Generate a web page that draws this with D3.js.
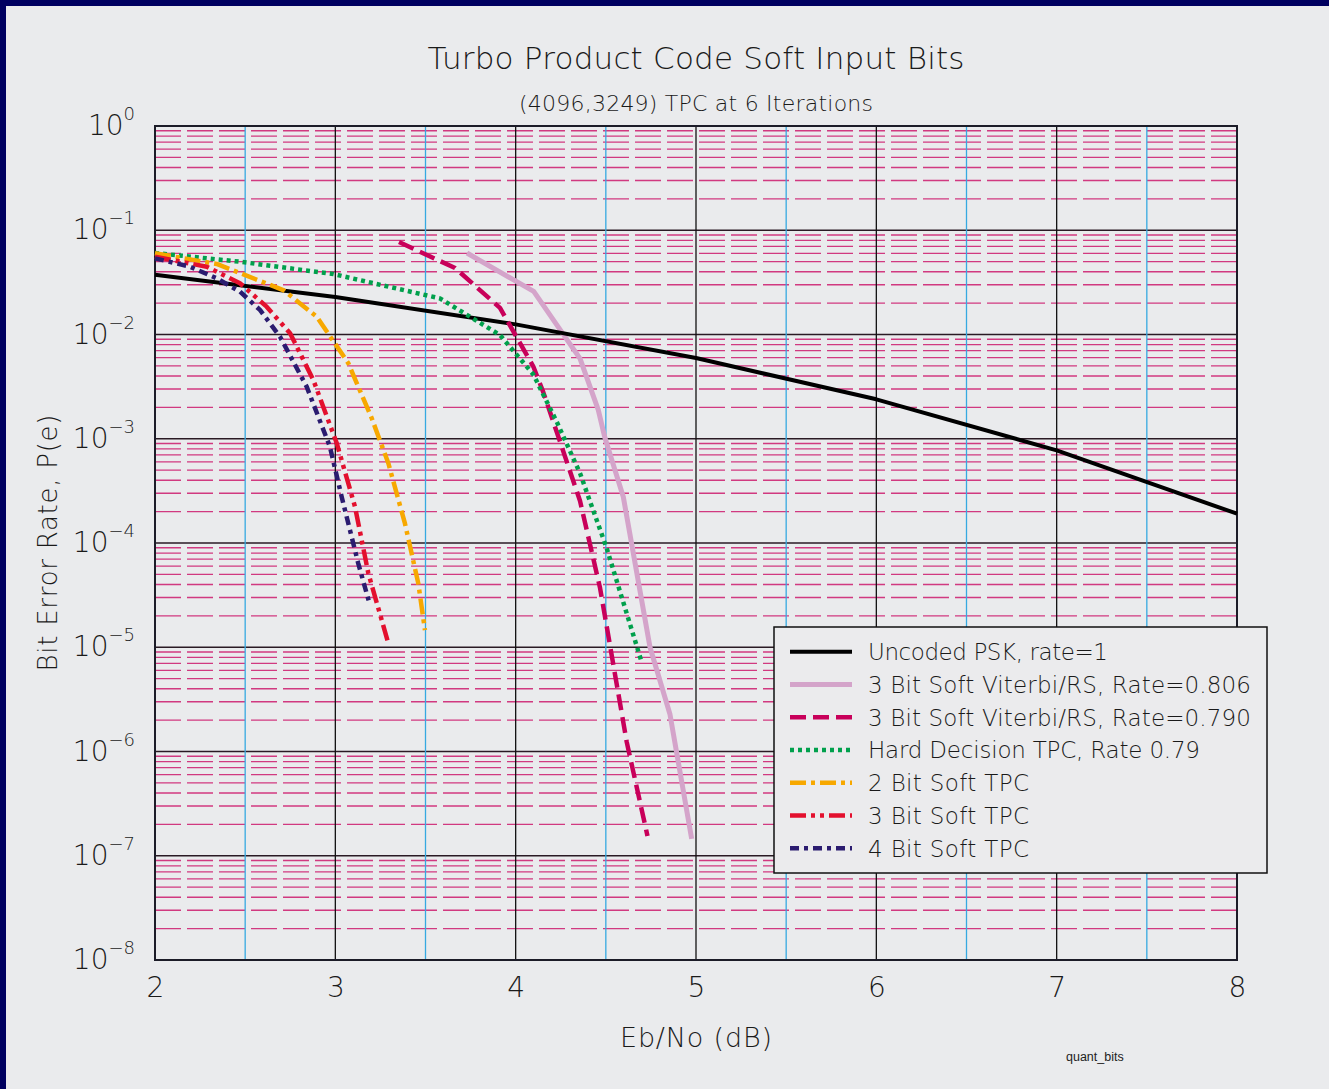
<!DOCTYPE html>
<html>
<head>
<meta charset="utf-8">
<script src="https://cdn.jsdelivr.net/npm/d3@7"></script>
<style>
  html, body { margin: 0; padding: 0; background: #000060; }
  svg { display: block; }
  .thin { font-family: "DejaVu Sans", "Open Sans", sans-serif; font-weight: 200; fill: #1a1a1a; }
</style>
</head>
<body>
<svg id="chart" width="1329" height="1089"></svg>
<script>
// Eb/No (dB) tick values and BER decade exponents
const xTicks = [2, 3, 4, 5, 6, 7, 8];
const halfTicks = [2.5, 3.5, 4.5, 5.5, 6.5, 7.5];
const decadeExps = [0, -1, -2, -3, -4, -5, -6, -7, -8];

// BER curves, [Eb/No dB, bit error rate]
const uncodedPSK = [[2, 3.75e-2], [3, 2.29e-2], [4, 1.25e-2], [5, 5.95e-3], [6, 2.39e-3], [7, 7.73e-4], [8, 1.91e-4]];
const viterbiRS806 = [[3.73, 6.05e-2], [4.10, 2.59e-2], [4.357, 5.87e-3], [4.458, 1.89e-3], [4.495, 1.02e-3], [4.597, 2.76e-4], [4.745, 1.0e-5], [4.856, 2.26e-6], [4.976, 1.45e-7]];
const viterbiRS790 = [[3.353, 7.71e-2], [3.664, 4.34e-2], [3.913, 1.80e-2], [4.098, 4.93e-3], [4.153, 2.80e-3], [4.246, 9.37e-4], [4.357, 2.53e-4], [4.468, 3.70e-5], [4.616, 1.23e-6], [4.731, 1.55e-7]];
const hardTPC = [[2.0, 6.05e-2], [2.471, 4.99e-2], [2.989, 3.80e-2], [3.58, 2.22e-2], [3.913, 9.89e-3], [4.098, 4.14e-3], [4.228, 1.45e-3], [4.357, 4.66e-4], [4.505, 8.88e-5], [4.695, 7.55e-6]];
const soft2TPC = [[2.0, 6.01e-2], [2.342, 4.75e-2], [2.711, 2.67e-2], [2.897, 1.48e-2], [3.072, 5.3e-3], [3.202, 1.57e-3], [3.294, 5.82e-4], [3.386, 1.54e-4], [3.46, 4.1e-5], [3.497, 1.46e-5]];
const soft3TPC = [[2.0, 5.57e-2], [2.287, 4.47e-2], [2.471, 3.10e-2], [2.619, 1.85e-2], [2.749, 1.03e-2], [2.878, 3.66e-3], [3.008, 9.04e-4], [3.109, 2.23e-4], [3.183, 5.12e-5], [3.294, 1.09e-5]];
const soft4TPC = [[2.0, 5.38e-2], [2.194, 4.47e-2], [2.342, 3.46e-2], [2.471, 2.58e-2], [2.582, 1.72e-2], [2.693, 9.53e-3], [2.841, 3.16e-3], [2.97, 8.39e-4], [3.035, 2.78e-4], [3.127, 6.38e-5], [3.192, 2.54e-5]];

const seriesNames = [
  "Uncoded PSK, rate=1",
  "3 Bit Soft Viterbi/RS, Rate=0.806",
  "3 Bit Soft Viterbi/RS, Rate=0.790",
  "Hard Decision TPC, Rate 0.79",
  "2 Bit Soft TPC",
  "3 Bit Soft TPC",
  "4 Bit Soft TPC"
];

const series = [
  { name: seriesNames[0], data: uncodedPSK,   color: "#000000", width: 4,   dash: null },
  { name: seriesNames[1], data: viterbiRS806, color: "#d4a4ca", width: 5,   dash: null },
  { name: seriesNames[2], data: viterbiRS790, color: "#c8005a", width: 4.5, dash: "16,7" },
  { name: seriesNames[3], data: hardTPC,      color: "#00a04c", width: 4.5, dash: "4,4" },
  { name: seriesNames[4], data: soft2TPC,     color: "#f7a800", width: 4.5, dash: "16,5,4,5" },
  { name: seriesNames[5], data: soft3TPC,     color: "#e3102e", width: 4.5, dash: "16,5,4,5,4,5" },
  { name: seriesNames[6], data: soft4TPC,     color: "#2b1c70", width: 4.5, dash: "9,5,4,5" }
];
// draw order: light pink under black, the rest on top
const drawOrder = [1, 0, 2, 3, 4, 5, 6];

const svg = d3.select("#chart");
const W = 1329, H = 1089;

// page background with navy edge on top and left
svg.append("rect").attr("x", 6).attr("y", 6).attr("width", W - 6).attr("height", H - 6).attr("fill", "#eaebed");

const x = d3.scaleLinear().domain([2, 8]).range([155, 1237]);
const y = d3.scaleLog().domain([1e-8, 1]).range([960, 126]);

const plot = svg.append("g");

// minor horizontal grid: dashed magenta at 2..9 x 10^k
const minorVals = [];
for (let e = -8; e < 0; e++) for (let k = 2; k <= 9; k++) minorVals.push(k * Math.pow(10, e));
plot.append("g").selectAll("line").data(minorVals).join("line")
  .attr("x1", x(2)).attr("x2", x(8))
  .attr("y1", d => y(d)).attr("y2", d => y(d))
  .attr("stroke", "#cc1a6c").attr("stroke-width", 1.4)
  .attr("stroke-dasharray", "26,6").attr("stroke-opacity", 0.85);

// decade lines
plot.append("g").selectAll("line").data(decadeExps.map(e => Math.pow(10, e))).join("line")
  .attr("x1", x(2)).attr("x2", x(8))
  .attr("y1", d => y(d)).attr("y2", d => y(d))
  .attr("stroke", "#2a1a24").attr("stroke-width", 1.5);

// vertical grid
plot.append("g").selectAll("line").data(halfTicks).join("line")
  .attr("x1", d => x(d)).attr("x2", d => x(d))
  .attr("y1", y(1)).attr("y2", y(1e-8))
  .attr("stroke", "#36a9e1").attr("stroke-width", 1.3);
plot.append("g").selectAll("line").data(xTicks).join("line")
  .attr("x1", d => x(d)).attr("x2", d => x(d))
  .attr("y1", y(1)).attr("y2", y(1e-8))
  .attr("stroke", "#111").attr("stroke-width", 1.3);

// frame
plot.append("rect")
  .attr("x", x(2)).attr("y", y(1)).attr("width", x(8) - x(2)).attr("height", y(1e-8) - y(1))
  .attr("fill", "none").attr("stroke", "#1c1c28").attr("stroke-width", 2);

// curves
const line = d3.line().x(d => x(d[0])).y(d => y(d[1]));
drawOrder.forEach(i => {
  const s = series[i];
  plot.append("path").datum(s.data)
    .attr("d", line)
    .attr("fill", "none")
    .attr("stroke", s.color)
    .attr("stroke-width", s.width)
    .attr("stroke-dasharray", s.dash)
    .attr("stroke-linejoin", "round");
});

// x axis labels
const xAxis = d3.axisBottom(x).tickValues(xTicks).tickSize(0).tickPadding(0).tickFormat(d3.format("d"));
const gx = svg.append("g").attr("transform", `translate(0, ${y(1e-8)})`).call(xAxis);
gx.select(".domain").remove();
gx.selectAll("text").attr("class", "thin").attr("dy", null).attr("y", 37)
  .attr("font-size", 28).attr("fill", "#1a1a1a");

// y axis labels 10^k
const yl = svg.append("g").selectAll("text").data(decadeExps).join("text")
  .attr("class", "thin").attr("text-anchor", "end")
  .attr("x", 135).attr("y", d => y(Math.pow(10, d)) + 9)
  .attr("font-size", 28);
yl.append("tspan").text("10");
yl.append("tspan").attr("dy", -15).attr("font-size", 18).text(d => d === 0 ? "0" : "\u2212" + Math.abs(d));

// titles
svg.append("text").attr("class", "thin").attr("x", 696).attr("y", 69)
  .attr("text-anchor", "middle").attr("font-size", 31)
  .attr("textLength", 537).attr("lengthAdjust", "spacing")
  .text("Turbo Product Code Soft Input Bits");
svg.append("text").attr("class", "thin").attr("x", 696).attr("y", 111)
  .attr("text-anchor", "middle").attr("font-size", 22)
  .attr("textLength", 354).attr("lengthAdjust", "spacing")
  .text("(4096,3249) TPC at 6 Iterations");
svg.append("text").attr("class", "thin").attr("x", 696).attr("y", 1047)
  .attr("text-anchor", "middle").attr("font-size", 27)
  .attr("textLength", 152).attr("lengthAdjust", "spacing")
  .text("Eb/No (dB)");
svg.append("text").attr("class", "thin")
  .attr("transform", "translate(57, 543) rotate(-90)")
  .attr("text-anchor", "middle").attr("font-size", 26)
  .attr("textLength", 257).attr("lengthAdjust", "spacing")
  .text("Bit Error Rate, P(e)");
svg.append("text").attr("x", 1066).attr("y", 1061)
  .attr("font-family", "Liberation Sans, Arial, sans-serif").attr("font-size", 12.5)
  .attr("fill", "#222").text("quant_bits");

// legend
const legend = svg.append("g");
legend.append("rect").attr("x", 774).attr("y", 627).attr("width", 493).attr("height", 246)
  .attr("fill", "#ebebed").attr("stroke", "#111").attr("stroke-width", 1.5);
const legWidths = [240, 383, 383, 332, 161, 161, 161];
const rows = legend.selectAll("g.row").data(series).join("g").attr("class", "row")
  .attr("transform", (d, i) => `translate(0, ${651.7 + i * 32.76})`);
rows.append("line").attr("x1", 790).attr("x2", 852).attr("y1", 0).attr("y2", 0)
  .attr("stroke", d => d.color).attr("stroke-width", d => d.width)
  .attr("stroke-dasharray", d => d.dash);
rows.append("text").attr("class", "thin").attr("x", 868).attr("y", 8.5)
  .attr("font-size", 23)
  .attr("textLength", (d, i) => legWidths[i]).attr("lengthAdjust", "spacing")
  .text(d => d.name);
</script>
</body>
</html>
